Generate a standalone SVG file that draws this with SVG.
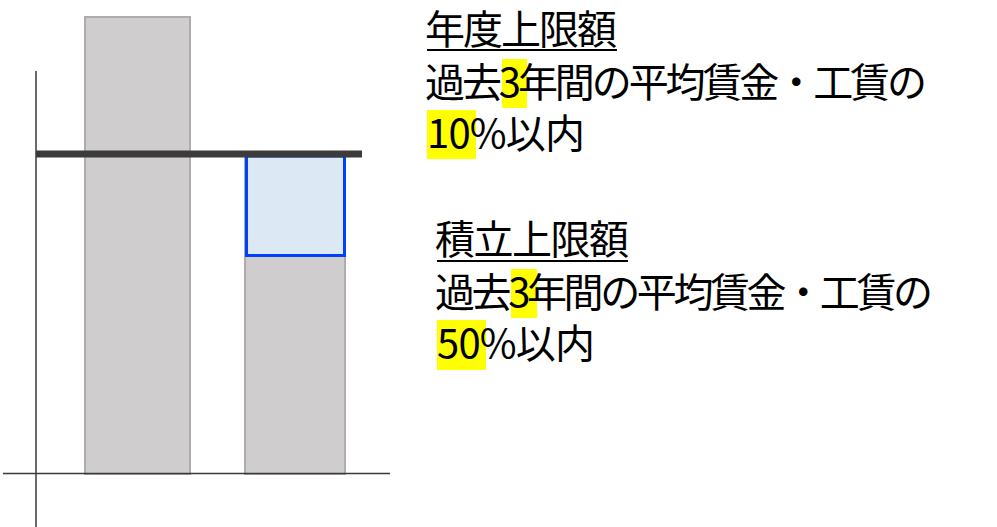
<svg xmlns="http://www.w3.org/2000/svg" width="997" height="527" viewBox="0 0 997 527">
<style>
.bar{fill:#cfcdce;stroke:#aeacad;stroke-width:2}
.axis{stroke:#3a3a3a;stroke-width:1.5;fill:none}
.t{font-family:"Noto Sans CJK JP","Noto Sans CJK SC",sans-serif;font-size:40px;fill:#000}
.hl{fill:#ffff00}
.ul{stroke:#000;stroke-width:2}
</style>
<rect width="997" height="527" fill="#fff"/>
<g id="bar1"><rect class="bar" x="85" y="17" width="105" height="457"/></g>
<g id="bar2"><rect class="bar" x="245" y="157" width="100" height="317"/></g>
<g id="reserve"><rect x="246.5" y="156" width="98" height="99.5" fill="#dde8f5" stroke="#0040ff" stroke-width="3"/></g>
<g id="axes">
<line class="axis" x1="36" y1="71" x2="36" y2="527"/>
<line class="axis" x1="3" y1="473.5" x2="390" y2="473.5"/>
</g>
<g id="limit"><line x1="36" y1="154" x2="362" y2="154" stroke="#3b3b3b" stroke-width="7"/></g>
<g id="label1">
<rect class="hl" x="502" y="59" width="25" height="49"/>
<rect class="hl" x="427" y="110" width="49" height="49"/>
<text class="t" x="425" y="44" textLength="192" lengthAdjust="spacing">年度上限額</text>
<line class="ul" x1="427" y1="50" x2="617" y2="50"/>
<text class="t" x="425" y="97" textLength="502" lengthAdjust="spacing">過去3年間の平均賃金・工賃の</text>
<text class="t" x="427" y="148" textLength="158" lengthAdjust="spacing">10%以内</text>
</g>
<g id="label2">
<rect class="hl" x="511" y="269" width="26" height="49"/>
<rect class="hl" x="437" y="320" width="49" height="50"/>
<text class="t" x="435" y="254" textLength="194" lengthAdjust="spacing">積立上限額</text>
<line class="ul" x1="437" y1="261" x2="628" y2="261"/>
<text class="t" x="435" y="307" textLength="498" lengthAdjust="spacing">過去3年間の平均賃金・工賃の</text>
<text class="t" x="437" y="358" textLength="158" lengthAdjust="spacing">50%以内</text>
</g>
</svg>
